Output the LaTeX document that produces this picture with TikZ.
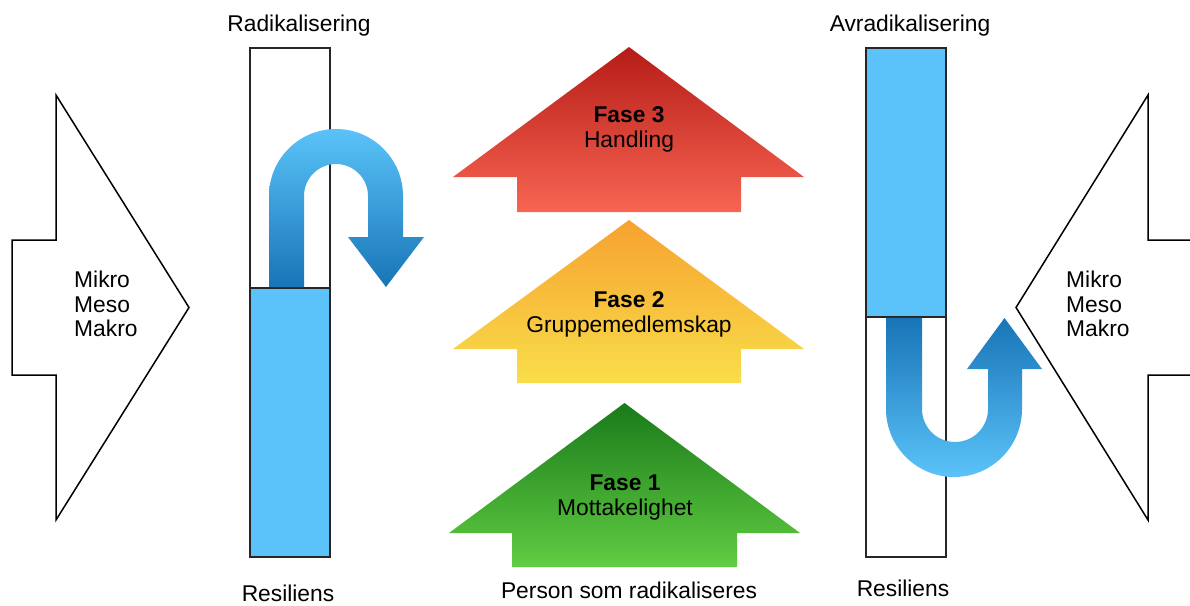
\documentclass[tikz,border=0pt]{standalone}
\usepackage{fontspec}
\setmainfont{Liberation Sans}
\begin{document}
\begin{tikzpicture}[x=1pt,y=-1pt,
  txt/.style={inner sep=0pt,font=\fontsize{22.8}{25}\selectfont},
  bigarrow/.style={draw=black,line width=1.5pt,fill=white,line join=miter},
  column/.style={draw=black!85,line width=1.4pt},
  bluefill/.style={fill=barblue,draw=black!85,line width=1.4pt}]
\definecolor{barblue}{HTML}{5BC2FA}
\definecolor{ulight}{HTML}{5BC3F9}
\definecolor{udark}{HTML}{1874B6}
\definecolor{redtop}{HTML}{B51C17}
\definecolor{redbot}{HTML}{F86552}
\definecolor{orgtop}{HTML}{F6A230}
\definecolor{orgbot}{HTML}{F9DE4A}
\definecolor{grntop}{HTML}{1A7A1A}
\definecolor{grnbot}{HTML}{60CD42}
\useasboundingbox (0,0) rectangle (1190,605);

% left big arrow
\draw[bigarrow] (12,240) -- (56,240) -- (56,95) -- (189,307.5) -- (56,520) -- (56,375) -- (12,375) -- cycle;
\node[txt,anchor=base west] (lmi) at (74,287) {Mikro};
\node[txt,anchor=base west] (lme) at (74,312) {Meso};
\node[txt,anchor=base west] (lma) at (74,336) {Makro};

% right big arrow
\draw[bigarrow] (1195,240) -- (1148,240) -- (1148,95) -- (1016,307.5) -- (1148,520) -- (1148,375) -- (1195,375);
\node[txt,anchor=base west] (rmi) at (1066,287) {Mikro};
\node[txt,anchor=base west] (rme) at (1066,312) {Meso};
\node[txt,anchor=base west] (rma) at (1066,336) {Makro};

% left column
\draw[column] (250,48) rectangle (330,557);
\draw[bluefill] (250,288) rectangle (330,557);
\node[txt,anchor=base] (rad) at (299,31) {Radikalisering};
\node[txt,anchor=base] (res1) at (288,601) {Resiliens};

% left U-turn arrow
\shade[top color=ulight,bottom color=udark]
  (269,287.2) -- (269,196) arc[start angle=180,end angle=360,radius=67]
  -- (403,237) -- (424,237) -- (386,287) -- (348,237) -- (368,237)
  -- (368,196) arc[start angle=0,end angle=-180,radius=32]
  -- (304,287.2) -- cycle;

% right column
\draw[column] (866,48) rectangle (946,557);
\draw[bluefill] (866,48) rectangle (946,317);
\node[txt,anchor=base] (avrad) at (910,31) {Avradikalisering};
\node[txt,anchor=base] (res2) at (903,596) {Resiliens};

% right U-turn arrow
\shade[top color=udark,bottom color=ulight]
  (886,317.8) -- (886,409) arc[start angle=180,end angle=0,radius=68]
  -- (1022,369) -- (1042,369) -- (1004.5,318) -- (967,369) -- (988,369)
  -- (988,409) arc[start angle=0,end angle=180,radius=33]
  -- (922,317.8) -- cycle;

% phase arrows
\shade[top color=redtop,bottom color=redbot]
  (629,47) -- (804,177) -- (741,177) -- (741,212) -- (517,212) -- (517,177) -- (453,177) -- cycle;
\node[txt,anchor=base] (f3) at (629,122) {\textbf{Fase 3}};
\node[txt,anchor=base] (f3b) at (629,147) {Handling};

\shade[top color=orgtop,bottom color=orgbot]
  (629,220) -- (804,349) -- (741,349) -- (741,383) -- (517,383) -- (517,349) -- (453,349) -- cycle;
\node[txt,anchor=base] (f2) at (629,307) {\textbf{Fase 2}};
\node[txt,anchor=base] (f2b) at (629,332) {Gruppemedlemskap};

\shade[top color=grntop,bottom color=grnbot]
  (624.5,403) -- (800,533) -- (737,533) -- (737,567) -- (512,567) -- (512,533) -- (449,533) -- cycle;
\node[txt,anchor=base] (f1) at (625,490) {\textbf{Fase 1}};
\node[txt,anchor=base] (f1b) at (625,515) {Mottakelighet};

\node[txt,anchor=base] (person) at (629,598) {Person som radikaliseres};
\end{tikzpicture}
\end{document}
